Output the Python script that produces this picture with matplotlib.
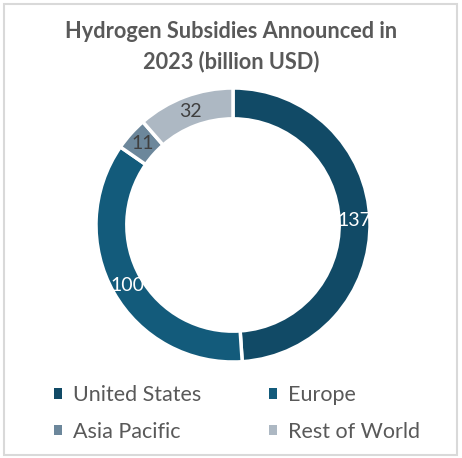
import matplotlib.pyplot as plt
from matplotlib.patches import Rectangle, Patch
import numpy as np

regions = ["United States", "Europe", "Asia Pacific", "Rest of World"]
subsidies = [137, 100, 11, 32]
colors = ["#114A66", "#135B7B", "#6C879B", "#ADB8C3"]
label_colors = ["white", "white", "#404040", "#404040"]

plt.rcParams['font.family'] = ['Lato', 'DejaVu Sans']

fig = plt.figure(figsize=(4.62, 4.58), dpi=100)
fig.patch.set_facecolor("white")

# chart frame
fig.add_artist(Rectangle((4 / 462, 3 / 458), 453 / 462, 451 / 458,
                         transform=fig.transFigure, fill=False,
                         edgecolor="#D9D9D9", linewidth=1.5))

fig.text(0.5, 1 - 32 / 458, "Hydrogen Subsidies Announced in",
         ha="center", va="center", fontsize=15.7, fontweight="bold", color="#595959")
fig.text(0.5, 1 - 62 / 458, "2023 (billion USD)",
         ha="center", va="center", fontsize=15.7, fontweight="bold", color="#595959")

# donut area: centre (233, 225), outer radius 137 px
r_px = 137
cx, cy = 233, 225
ax = fig.add_axes([(cx - r_px) / 462, 1 - (cy + r_px) / 458, 2 * r_px / 462, 2 * r_px / 458])

width = 0.225
wedges, _ = ax.pie(subsidies, colors=colors, startangle=90, counterclock=False,
                   radius=1.0, wedgeprops=dict(width=width, edgecolor="white", linewidth=2.5))
ax.set_xlim(-1, 1)
ax.set_ylim(-1, 1)
ax.set_aspect("equal")
ax.axis("off")

total = sum(subsidies)
start = 90.0
label_r = 1 - width / 2
for val, tc in zip(subsidies, label_colors):
    sweep = val / total * 360
    mid = np.deg2rad(start - sweep / 2)
    ax.text(label_r * np.cos(mid), label_r * np.sin(mid), str(val),
            ha="center", va="center", fontsize=14, color=tc)
    start -= sweep

# two-column legend filled row by row, plain square swatches
order = [0, 2, 1, 3]
handles = [Patch(facecolor=colors[i], edgecolor="none") for i in order]
leg = fig.legend(handles, [regions[i] for i in order],
                 loc="center", ncol=2,
                 bbox_to_anchor=(0.512, 1 - 413.5 / 458), frameon=False,
                 fontsize=15.5, labelcolor="#595959", handlelength=0.38, handleheight=0.38,
                 handletextpad=0.5, columnspacing=3.15, labelspacing=0.78)

fig.savefig("out.png", dpi=100)
